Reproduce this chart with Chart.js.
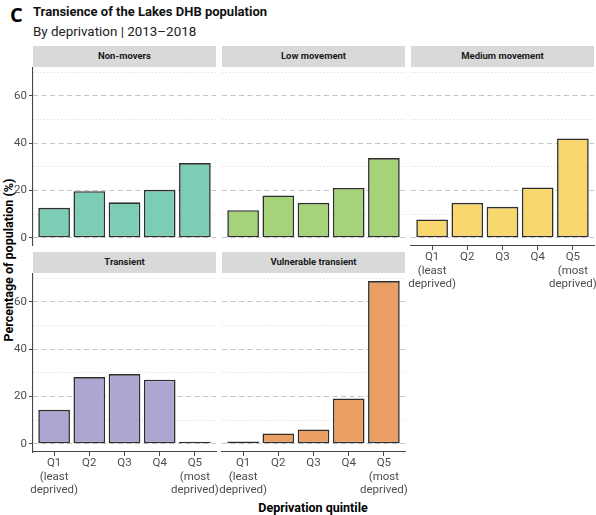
<!DOCTYPE html>
<html>
<head>
<meta charset="utf-8">
<script src="https://cdn.jsdelivr.net/npm/chart.js@4/dist/chart.umd.min.js"></script>
<style>
  html, body { margin: 0; padding: 0; background: #ffffff; overflow: hidden; }
  #wrap { position: relative; width: 596px; height: 515px; font-family: Roboto, "Noto Sans", sans-serif; color: #1a1a1a; }
  .abs { position: absolute; white-space: nowrap; }
  #tag { left: 10px; top: 1px; font-family: "Open Sans", sans-serif; font-weight: 700; font-size: 20px; line-height: 28px; color: #000; }
  #title { left: 33px; top: 3px; font-weight: 700; font-size: 13px; line-height: 18px; color: #111; }
  #subtitle { left: 33px; top: 23px; font-size: 13.4px; line-height: 18px; color: #222; }
  .strip { position: absolute; background: #d9d9d9; font-weight: 700; font-size: 9.5px; color: #1a1a1a; text-align: center; }
  canvas { position: absolute; }
  #ytitle { left: 8px; top: 260px; transform: translate(-50%, -50%) rotate(-90deg); font-weight: 700; font-size: 12.5px; color: #000; }
  #xtitle { left: 313px; top: 507px; transform: translate(-50%, -50%); font-weight: 700; font-size: 12.5px; color: #000; }
</style>
</head>
<body>
<div id="wrap">
  <div id="tag" class="abs">C</div>
  <div id="title" class="abs">Transience of the Lakes DHB population</div>
  <div id="subtitle" class="abs">By deprivation | 2013–2018</div>
  <div id="ytitle" class="abs">Percentage of population (%)</div>
  <div id="xtitle" class="abs">Deprivation quintile</div>
</div>
<script>
// Deprivation quintiles and their axis labels
const quintiles = ['Q1', 'Q2', 'Q3', 'Q4', 'Q5'];
const quintileLabels = [['Q1', '(least', 'deprived)'], ['Q2'], ['Q3'], ['Q4'], ['Q5', '(most', 'deprived)']];

// Movement groups (one facet each)
const groups = ['Non-movers', 'Low movement', 'Medium movement', 'Transient', 'Vulnerable transient'];

// Percentage of population in each quintile, per group
const nonMovers = [12.7, 19.7, 15.0, 20.3, 31.6];
const lowMovement = [11.7, 17.9, 14.8, 21.1, 33.7];
const mediumMovement = [7.8, 14.8, 13.1, 21.3, 42.0];
const transient = [14.4, 28.2, 29.5, 27.1, 0.2];
const vulnerableTransient = [1.0, 4.4, 6.1, 19.2, 68.8];

// Value axis ticks: labelled majors and unlabelled minors
const yMajorTicks = [0, 20, 40, 60];
const yMinorTicks = [10, 30, 50, 70];

const seriesByGroup = [nonMovers, lowMovement, mediumMovement, transient, vulnerableTransient];
const fills = ['#7bcdb5', '#a6d279', '#f8d86e', '#aea6d2', '#e99e64'];

// Facet grid geometry
const colLeft = [33, 222, 411];
const rowTop = [67, 273];
const panelW = 183, panelH = 179;
const stripTop = [46, 252], stripH = 20.5;
const PAD = 14, Y_AXIS_W = 33, X_AXIS_H = 52;
const Y_MIN = -3.44, Y_MAX = 72.2;

const facets = [
  { col: 0, row: 0, yAxis: true,  xAxis: false },
  { col: 1, row: 0, yAxis: false, xAxis: false },
  { col: 2, row: 0, yAxis: false, xAxis: true },
  { col: 0, row: 1, yAxis: true,  xAxis: true },
  { col: 1, row: 1, yAxis: false, xAxis: true }
];

const wrap = document.getElementById('wrap');
const axisColor = '#474747';
const tickFont = { family: 'Roboto', size: 11.5, lineHeight: 1.15 };
const yTickValues = yMajorTicks.concat(yMinorTicks).sort((a, b) => a - b);
const isMajor = v => yMajorTicks.includes(v);

facets.forEach((f, i) => {
  // strip header
  const strip = document.createElement('div');
  strip.className = 'strip';
  strip.style.left = colLeft[f.col] + 'px';
  strip.style.top = stripTop[f.row] + 'px';
  strip.style.width = panelW + 'px';
  strip.style.height = stripH + 'px';
  strip.style.lineHeight = stripH + 'px';
  strip.textContent = groups[i];
  wrap.appendChild(strip);

  // panel canvas
  const leftExtra = PAD + (f.yAxis ? Y_AXIS_W : 0);
  const canvas = document.createElement('canvas');
  canvas.width = panelW + leftExtra + PAD;
  canvas.height = panelH + (f.xAxis ? X_AXIS_H : 0);
  canvas.style.left = (colLeft[f.col] - leftExtra) + 'px';
  canvas.style.top = rowTop[f.row] + 'px';
  wrap.appendChild(canvas);

  new Chart(canvas, {
    type: 'bar',
    data: {
      datasets: [{
        label: groups[i],
        data: seriesByGroup[i].map((v, k) => ({ x: k, y: v })),
        backgroundColor: fills[i],
        borderColor: '#2e2e2e',
        borderWidth: 1.6,
        borderSkipped: false,
        categoryPercentage: 1,
        barPercentage: 0.9,
        minBarLength: 2
      }]
    },
    options: {
      responsive: false,
      animation: false,
      devicePixelRatio: 1,
      layout: { padding: { left: PAD, right: PAD, top: 0, bottom: 0 } },
      plugins: { legend: { display: false }, tooltip: { enabled: false } },
      scales: {
        x: {
          type: 'linear',
          display: f.xAxis,
          min: -0.6,
          max: 4.6,
          bounds: 'data',
          offset: false,
          afterBuildTicks: s => { s.ticks = quintiles.map((q, k) => ({ value: k })); },
          afterFit: s => { s.height = f.xAxis ? X_AXIS_H : 0; s.paddingLeft = 0; s.paddingRight = 0; },
          grid: { drawOnChartArea: false, drawTicks: true, tickLength: 4, tickColor: axisColor, tickWidth: 1, offset: false },
          border: { display: true, color: axisColor, width: 1.1 },
          ticks: {
            autoSkip: false, maxRotation: 0, minRotation: 0, padding: 1,
            color: '#4d4d4d', font: tickFont,
            callback: v => quintileLabels[v]
          }
        },
        y: {
          min: Y_MIN,
          max: Y_MAX,
          bounds: 'data',
          afterBuildTicks: s => { s.ticks = yTickValues.map(v => ({ value: v })); },
          afterFit: s => { s.width = f.yAxis ? Y_AXIS_W : 0; s.paddingTop = 0; s.paddingBottom = 0; },
          grid: {
            drawOnChartArea: true,
            drawTicks: f.yAxis,
            tickLength: 4,
            color: c => (c.tick && isMajor(c.tick.value)) ? '#c4c4c4' : '#dadada',
            lineWidth: c => (c.tick && isMajor(c.tick.value)) ? 1 : 0.9,
            tickColor: c => (c.tick && isMajor(c.tick.value)) ? axisColor : 'rgba(0,0,0,0)',
            tickWidth: 1
          },
          border: {
            display: f.yAxis,
            color: axisColor,
            width: 1.1,
            dash: c => c.tick ? (isMajor(c.tick.value) ? [5, 3.5] : [1.2, 2.3]) : []
          },
          ticks: {
            display: f.yAxis,
            padding: 2,
            color: '#4d4d4d',
            font: tickFont,
            callback: v => isMajor(v) ? String(v) : ''
          }
        }
      }
    }
  });
});
</script>
</body>
</html>
